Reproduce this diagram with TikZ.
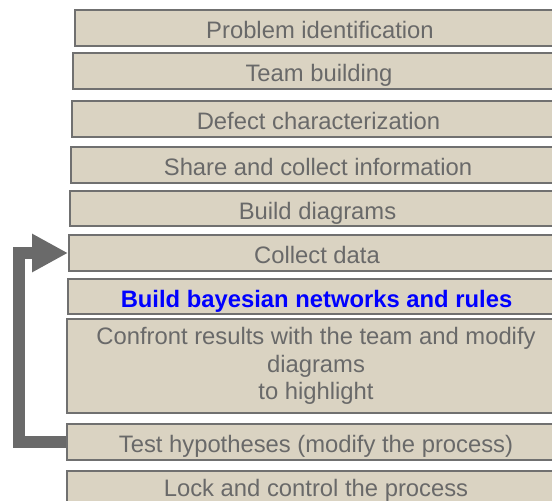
\documentclass[tikz,border=0pt]{standalone}
\usepackage{fontspec}
\setmainfont{Liberation Sans}
\usetikzlibrary{arrows.meta}
\definecolor{boxfill}{RGB}{218,211,194}
\definecolor{boxline}{RGB}{112,112,112}
\definecolor{txtgray}{RGB}{105,105,105}
\definecolor{arrowgray}{RGB}{106,106,106}
\begin{document}
\begin{tikzpicture}[x=1pt,y=1pt,
  stepbox/.style={draw=boxline, fill=boxfill, line width=2pt, anchor=north west,
    inner sep=0pt, text=txtgray, font=\fontsize{23.8}{27.5}\selectfont, align=center,
    text height=21pt, text depth=0pt},
  multibox/.style={stepbox, text height=, text depth=},
  hl/.style={text=blue, font=\fontsize{23.8}{27.5}\selectfont\bfseries},
  loop/.style={draw=arrowgray, line width=12pt, line join=miter,
    -{Triangle[length=36pt,width=36pt]}}]
\useasboundingbox (0,0) rectangle (552,-501);
\clip (0,0) rectangle (552,-501);
\node[stepbox, minimum width=490, minimum height=36] (b1) at (74,-9) {Problem identification};
\node[stepbox, minimum width=492, minimum height=36] (b2) at (72,-52) {Team building};
\node[stepbox, minimum width=493, minimum height=36] (b3) at (71,-100) {Defect characterization};
\node[stepbox, minimum width=494, minimum height=36] (b4) at (70,-146) {Share and collect information};
\node[stepbox, minimum width=495, minimum height=35] (b5) at (69,-190) {Build diagrams};
\node[stepbox, minimum width=496, minimum height=36] (b6) at (68,-234) {Collect data};
\node[stepbox, minimum width=497, minimum height=35, hl] (b7) at (67,-278) {Build bayesian networks and rules};
\node[multibox, minimum width=498, minimum height=94] (b8) at (66,-318) {Confront results with the team and modify\\diagrams\\to highlight};
\node[stepbox, minimum width=498, minimum height=36] (b9) at (66,-423) {Test hypotheses (modify the process)};
\node[stepbox, minimum width=498, minimum height=36, text height=14pt] (b10) at (66,-470) {Lock and control the process};
\draw[loop] (b9.west) -- ++(-47,0) |- (b6.west);
\end{tikzpicture}
\end{document}
